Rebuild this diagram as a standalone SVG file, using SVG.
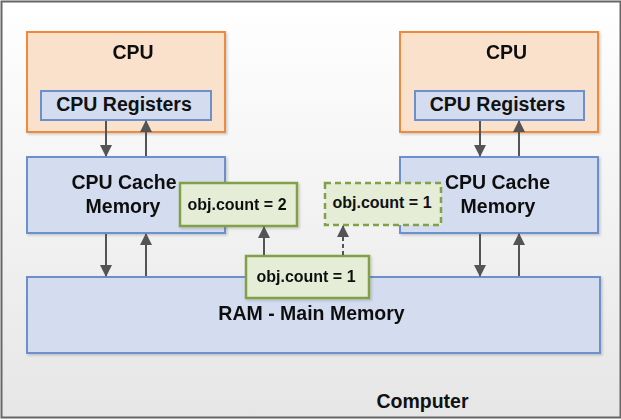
<svg xmlns="http://www.w3.org/2000/svg" width="621" height="420" viewBox="0 0 621 420">
<defs>
<linearGradient id="bg" x1="0" y1="0" x2="0" y2="1">
<stop offset="0" stop-color="#ffffff"/>
<stop offset="1" stop-color="#e6e6e6"/>
</linearGradient>
<marker id="ah" markerUnits="userSpaceOnUse" markerWidth="12" markerHeight="12" refX="11" refY="6" orient="auto">
<path d="M0,0 L12,6 L0,12 Z" fill="#545454"/>
</marker>
<filter id="sh" x="-10%" y="-10%" width="130%" height="130%">
<feDropShadow dx="1.5" dy="1.5" stdDeviation="1" flood-color="#000" flood-opacity="0.18"/>
</filter>
</defs>
<style>
text{font-family:"Liberation Sans",Arial,sans-serif;font-weight:bold;fill:#111;text-anchor:middle}
.big{font-size:19.5px}
.sm{font-size:16px}
.cpu{fill:#fae1cb;stroke:#ee8a3e;stroke-width:2}
.blue{fill:#d4ddef;stroke:#6d8fcb;stroke-width:2}
.grn{fill:#e5edd7;stroke:#82a047;stroke-width:2.5}
.arr{stroke:#545454;stroke-width:2;fill:none;marker-end:url(#ah)}
</style>
<g id="computer">
<rect x="1.5" y="1.5" width="619" height="416" fill="url(#bg)" stroke="#666" stroke-width="2"/>
<text class="big" x="422.5" y="408">Computer</text>
</g>
<g id="cpu-left" filter="url(#sh)">
<rect class="cpu" x="27" y="32" width="198" height="100"/>
<text class="big" x="133" y="59">CPU</text>
</g>
<g id="reg-left">
<rect class="blue" x="41" y="91" width="170" height="29"/>
<text class="big" x="124" y="111">CPU Registers</text>
</g>
<g id="cpu-right" filter="url(#sh)">
<rect class="cpu" x="400" y="32" width="198" height="100"/>
<text class="big" x="506.5" y="59">CPU</text>
</g>
<g id="reg-right">
<rect class="blue" x="415" y="91" width="169" height="29"/>
<text class="big" x="497.5" y="111">CPU Registers</text>
</g>
<g id="cache-left" filter="url(#sh)">
<rect class="blue" x="27" y="157" width="198" height="76"/>
<text class="big" x="124" y="189">CPU Cache</text>
<text class="big" x="123" y="213">Memory</text>
</g>
<g id="cache-right" filter="url(#sh)">
<rect class="blue" x="400" y="157" width="198" height="76"/>
<text class="big" x="497.5" y="189">CPU Cache</text>
<text class="big" x="498" y="213">Memory</text>
</g>
<g id="ram" filter="url(#sh)">
<rect class="blue" x="27" y="277" width="573" height="76"/>
<text class="big" x="311.5" y="320">RAM - Main Memory</text>
</g>
<g id="obj2" filter="url(#sh)">
<rect class="grn" x="180" y="183" width="117" height="43"/>
<text class="sm" x="237" y="210">obj.count = 2</text>
</g>
<g id="obj1-dashed">
<rect class="grn" x="325" y="183" width="116" height="42" stroke-dasharray="6 4"/>
<text class="sm" x="382" y="208">obj.count = 1</text>
</g>
<g id="obj1-ram" filter="url(#sh)">
<rect class="grn" x="246" y="256" width="123" height="42"/>
<text class="sm" x="306" y="282">obj.count = 1</text>
</g>
<g id="connectors">
<line class="arr" x1="106" y1="121" x2="106" y2="156"/>
<line class="arr" x1="146" y1="156" x2="146" y2="121"/>
<line class="arr" x1="480" y1="121" x2="480" y2="156"/>
<line class="arr" x1="519" y1="156" x2="519" y2="121"/>
<line class="arr" x1="106" y1="234" x2="106" y2="276"/>
<line class="arr" x1="146" y1="276" x2="146" y2="234"/>
<line class="arr" x1="480" y1="234" x2="480" y2="276"/>
<line class="arr" x1="519" y1="276" x2="519" y2="234"/>
<line class="arr" x1="264" y1="255" x2="264" y2="227"/>
<line class="arr" x1="343" y1="255" x2="343" y2="226" stroke-dasharray="4 3"/>
</g>
</svg>
